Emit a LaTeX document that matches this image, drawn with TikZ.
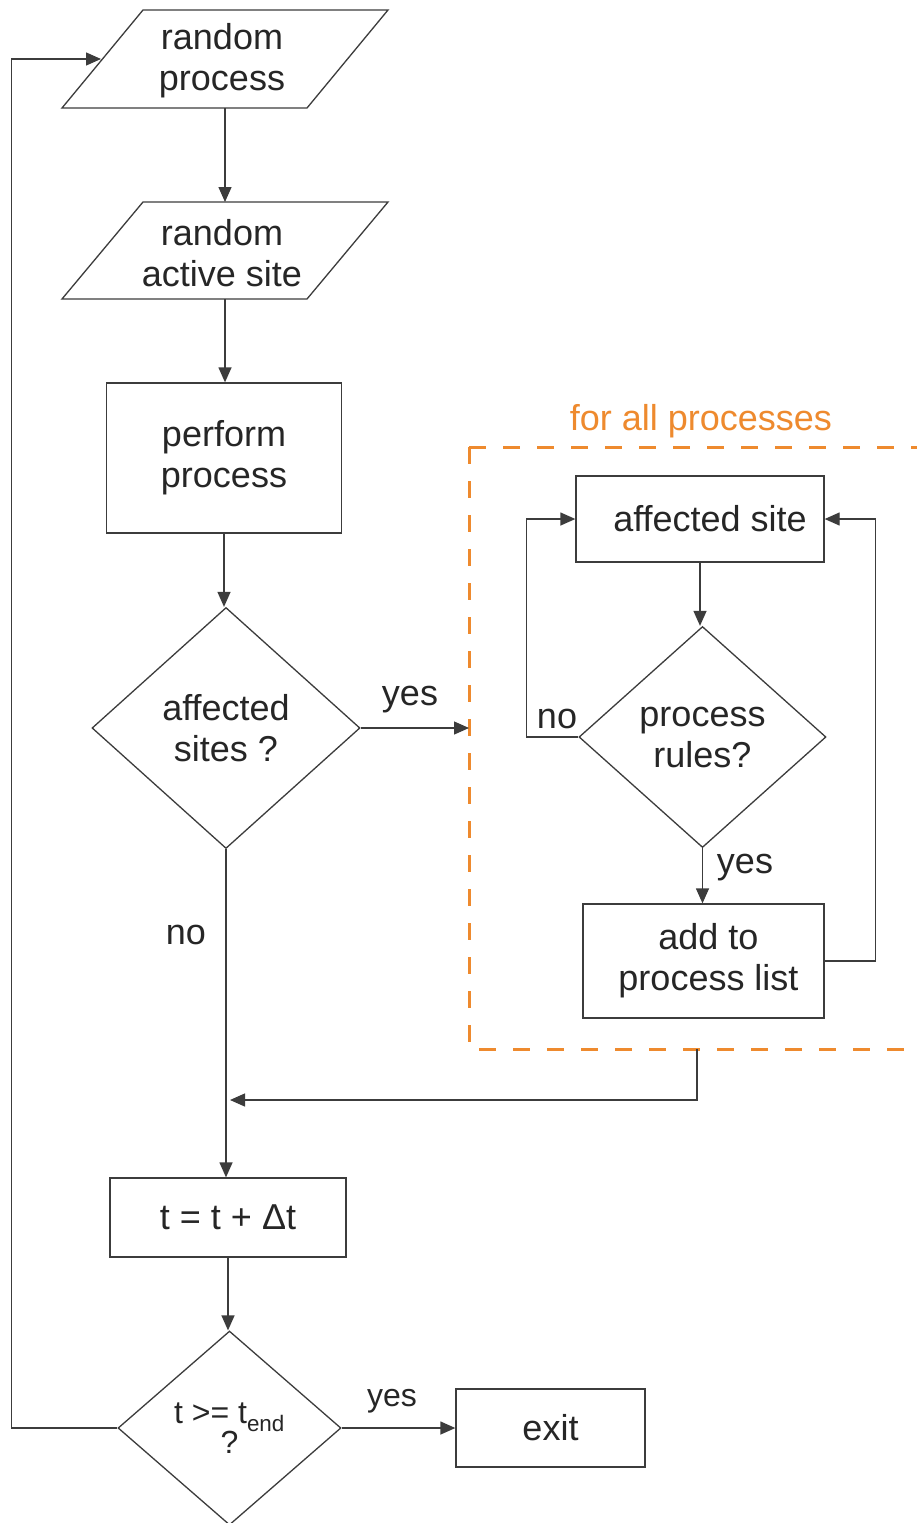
\documentclass[tikz,border=0pt]{standalone}
\usepackage{fontspec}
\setmainfont{Liberation Sans}
\usetikzlibrary{shapes.geometric,arrows.meta,calc}
\definecolor{lnc}{HTML}{3C3C3C}
\definecolor{txc}{HTML}{262626}
\definecolor{orc}{HTML}{EE8A2E}
\begin{document}
\begin{tikzpicture}[x=1pt,y=-1pt,
  every node/.style={font=\fontsize{36}{41}\selectfont, text=txc},
  box/.style={draw=lnc, line width=1.3pt, rectangle, align=center, inner sep=0pt},
  dia/.style={draw=lnc, line width=1.3pt, diamond, align=center, inner sep=0pt},
  arr/.style={draw=lnc, line width=1.3pt, -{Triangle[length=15pt,width=13pt]}},
  plain/.style={draw=lnc, line width=1.3pt},
  lbl/.style={inner sep=0pt, align=center}]
\clip (0,0) rectangle (917,1523);
\fill[white] (0,0) rectangle (917,1523);

% parallelograms
\draw[plain] (143,10) -- (388,10) -- (307,108) -- (62,108) -- cycle;
\node[lbl] (rp) at (222,61) {random\\process};
\coordinate (rpL) at (101,59);
\coordinate (rpB) at (225,108);
\draw[plain] (143,202) -- (388,202) -- (307,299) -- (62,299) -- cycle;
\node[lbl] (ras) at (222,253) {random\\active site};
\coordinate (rasT) at (225,202);
\coordinate (rasB) at (225,299);

% main column
\node[box, minimum width=235pt, minimum height=150pt] (pp) at (224,458) {perform\\process};
\node[dia, minimum width=268pt, minimum height=241pt] (as) at (226,728) {affected\\sites ?};
\node[box, minimum width=236pt, minimum height=79pt] (tt) at (228,1217.5) {t = t + Δt};
\node[dia, minimum width=223pt, minimum height=194pt, font=\fontsize{32}{32}\selectfont] (te) at (229.5,1428) {t >= t\textsubscript{end}\\[-2pt]?};
\node[box, minimum width=189pt, minimum height=78pt] (ex) at (550.5,1428) {exit};

% group
\draw[orc, line width=3pt, dash pattern=on 17pt off 17pt] (469,447) -- (940,447);
\draw[orc, line width=3pt, dash pattern=on 17pt off 17pt] (469,447) -- (469,1049) -- (940,1049);
\node[lbl, text=orc] (lblAll) at (701,421) {for all processes};
\coordinate (grpW) at (469,728);
\coordinate (grpS) at (697,1049);
\coordinate (mainJ) at (230,1100);

\node[box, minimum width=248pt, minimum height=86pt] (asite) at (700,519) {\hspace*{20pt}affected site};
\node[dia, minimum width=247pt, minimum height=221pt] (pr) at (702.5,737) {process\\rules?};
\node[box, minimum width=241pt, minimum height=114pt] (add) at (703.5,961) {\hspace*{10pt}add to\\\hspace*{10pt}process list};

% labels
\node[lbl] (yes1) at (410,700) {yes};
\node[lbl] (no1) at (186,935) {no};
\node[lbl] (no2) at (557,719) {no};
\node[lbl] (yes2) at (745,868) {yes};
\node[lbl, font=\fontsize{32}{32}\selectfont] (yes3) at (392,1401) {yes};

% connectors
\draw[arr] (rpB) -- (rasT);
\draw[arr] (rasB) -- (rasB |- pp.north);
\draw[arr] (pp.south) -- (pp.south |- as.north);
\draw[arr] (as.east) -- (grpW);
\draw[arr] (as.south) -- (as.south |- tt.north);
\draw[arr] (asite.south) -- (asite.south |- pr.north);
\draw[arr] (pr.south) -- (pr.south |- add.north);
\draw[arr] (pr.west) -- ++(-52,0) |- (asite.west);
\draw[arr] (add.east) -- ++(51,0) |- (asite.east);
\draw[arr] (grpS) |- (mainJ);
\draw[arr] (tt.south) -- (tt.south |- te.north);
\draw[arr] (te.east) -- (ex.west);
\draw[arr] (te.west) -- ++(-106,0) |- (rpL);
\end{tikzpicture}
\end{document}
